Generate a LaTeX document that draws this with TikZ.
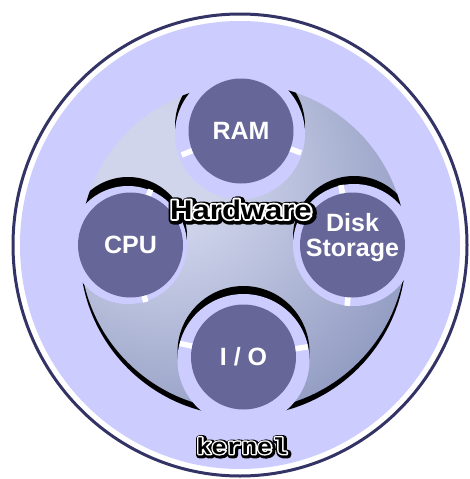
\documentclass[tikz,border=0pt]{standalone}
\usepackage{fontspec}
\setmainfont{Liberation Sans}
\newfontfamily\kernelfont{Liberation Mono}
\usetikzlibrary{calc}

\definecolor{lav}{RGB}{204,204,255}
\definecolor{navy}{RGB}{51,51,102}
\definecolor{unitfill}{RGB}{102,102,153}
\definecolor{blobA}{RGB}{208,213,236}
\definecolor{blobB}{RGB}{98,112,162}

% light spot up and to the left of the hardware disc
\pgfdeclareradialshading{blobshade}{\pgfpoint{-14bp}{13bp}}{%
  color(0bp)=(blobA); color(9bp)=(blobA); color(61bp)=(blobB); color(110bp)=(blobB)}

% text drawn filled and stroked with a round-joined outline of width #1
\newcommand\fatglyphs[2]{%
  \special{pdf:literal direct 1 j 1 J 2 Tr #1 w}#2\special{pdf:literal direct 0 Tr}}

\begin{document}
\begin{tikzpicture}[x=1pt,y=-1pt,
  unit/.style={circle, fill=unitfill, minimum size=105pt, inner sep=0pt,
    text=white, align=center, font=\bfseries\fontsize{25}{24}\selectfont},
  tick/.style={white, line width=5.5pt},
  hwfont/.style={font=\bfseries\fontsize{27}{27}\selectfont, xscale=1.15, inner sep=0pt, anchor=base},
  kfont/.style={font=\kernelfont\bfseries\fontsize{23}{23}\selectfont, xscale=1.1, inner sep=0pt, anchor=base}]
\useasboundingbox (0,0) rectangle (469,479);

% kernel ring
\draw[navy, line width=3pt, fill=white] (240,245) ellipse [x radius=227, y radius=231];
\fill[lav] (240,245) ellipse [x radius=220, y radius=224];

% centres
\coordinate (hwc) at (243,247);
\coordinate (cram) at (241,131);
\coordinate (ccpu) at (130.5,245);
\coordinate (cdisk) at (352.5,245);
\coordinate (cio) at (243.5,357);
% notch centres
\coordinate (nram) at (240,134);
\coordinate (ncpu) at (128,245);
\coordinate (ndisk) at (354,245);
\coordinate (nio) at (243.5,360);

% hardware disc with drop shadow
\fill[black] ($(hwc)+(0,6)$) circle[radius=163];
\shade[shading=blobshade] (hwc) circle[radius=163];

% shadows along the upper rims of the notches
\begin{scope}
  \clip (hwc) circle[radius=163];
  \fill[black] ($(nram)+(0,-8)$) circle[radius=65];
  \fill[black] ($(ncpu)+(0,-9)$) circle[radius=59];
  \fill[black] ($(ndisk)+(0,-8)$) circle[radius=61];
  \fill[black] ($(nio)+(0,-8)$) circle[radius=66];
\end{scope}

% notches
\fill[lav] (nram) circle[radius=65];
\fill[lav] (ncpu) circle[radius=59];
\fill[lav] (ndisk) circle[radius=61];
\fill[lav] (nio) circle[radius=66];

% white ticks across the rings
\draw[tick] (cram) ++(158:51) -- ++(158:13);
\draw[tick] (cram) ++(20:51) -- ++(20:13);
\draw[tick] (ccpu) ++(-70:51) -- ++(-70:8);
\draw[tick] (ccpu) ++(75:51) -- ++(75:8);
\draw[tick] (cdisk) ++(-101:51) -- ++(-101:10);
\draw[tick] (cdisk) ++(95:51) -- ++(95:10);
\draw[tick] (cio) ++(192:51) -- ++(192:14);
\draw[tick] (cio) ++(-9:51) -- ++(-9:14);

% units (the two-line label is set in a zero-height box, slightly raised)
\node[unit] (ram) at (cram) {RAM};
\node[unit] (cpu) at (ccpu) {CPU};
\node[unit] (disk) at (cdisk) {\raisebox{-11pt}[0pt][0pt]{\shortstack{Disk\\[4pt]Storage}}};
\node[unit] (io) at (cio) {I / O};

% outlined labels: black halo, white rim, black letters
\coordinate (hwpos) at (241,219);
\node[hwfont, text=black] (hwshadow) at ($(hwpos)+(1.3,1.3)$) {\fatglyphs{8.5}{Hardware}};
\node[hwfont, text=white] (hwrim) at (hwpos) {\fatglyphs{3.6}{Hardware}};
\node[hwfont, text=black] (hw) at (hwpos) {Hardware};

\coordinate (kpos) at (242,454);
\node[kfont, text=black] (kshadow) at ($(kpos)+(1.1,1.1)$) {\fatglyphs{6.6}{kernel}};
\node[kfont, text=white] (krim) at (kpos) {\fatglyphs{2.8}{kernel}};
\node[kfont, text=black] (kernel) at (kpos) {kernel};
\end{tikzpicture}
\end{document}
